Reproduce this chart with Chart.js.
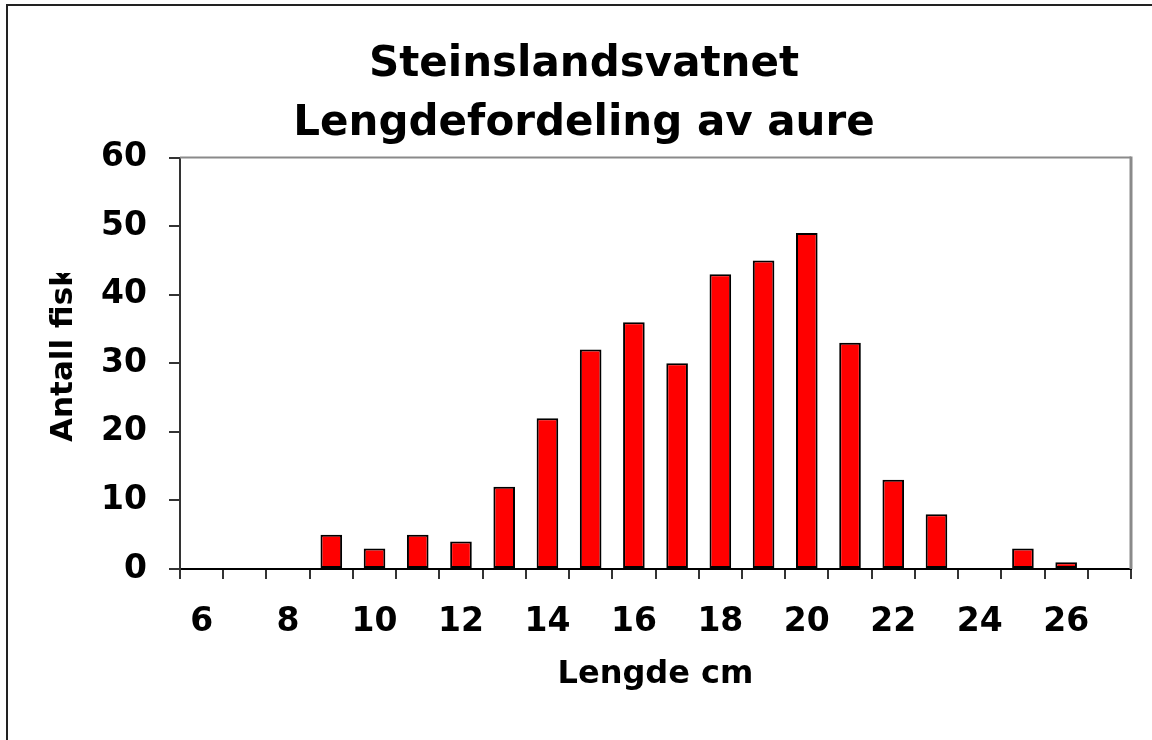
<!DOCTYPE html>
<html><head><meta charset="utf-8">
<script src="https://cdn.jsdelivr.net/npm/chart.js@4/dist/chart.umd.min.js"></script>
<style>html,body{margin:0;padding:0;background:#fff;overflow:hidden}
#wrap{position:relative;width:1152px;height:740px}</style>
</head><body><div id="wrap"><canvas id="c" width="1152" height="740"></canvas></div>
<script>
const titleLines = ['Steinslandsvatnet', 'Lengdefordeling av aure'];
const xTitle = 'Lengde cm';
const yTitle = 'Antall fisk';
const lengths = [6, 7, 8, 9, 10, 11, 12, 13, 14, 15, 16, 17, 18, 19, 20, 21, 22, 23, 24, 25, 26, 27];
const counts  = [0, 0, 0, 5, 3, 5, 4, 12, 22, 32, 36, 30, 43, 45, 49, 33, 13, 8, 0, 3, 1, 0];
const xTickLabels = [6, 8, 10, 12, 14, 16, 18, 20, 22, 24, 26];
const yTickValues = [0, 10, 20, 30, 40, 50, 60];

const FONT = 'DejaVu Sans';

const framePlugin = {
  id: 'frame',
  beforeDraw(chart) {
    const ctx = chart.ctx;
    ctx.save();
    ctx.fillStyle = '#fff';
    ctx.fillRect(0, 0, chart.width, chart.height);
    ctx.strokeStyle = '#222';
    ctx.lineWidth = 2;
    ctx.strokeRect(7, 5, 1300, 1000);
    ctx.restore();
  },
  afterDraw(chart) {
    const ctx = chart.ctx;
    const a = chart.chartArea;
    ctx.save();
    ctx.strokeStyle = '#8a8a8a';
    ctx.lineWidth = 2;
    ctx.beginPath();
    ctx.moveTo(a.left, a.top);
    ctx.lineTo(a.right, a.top);
    ctx.stroke();
    ctx.lineWidth = 3;
    ctx.beginPath();
    ctx.moveTo(a.right, a.top - 1);
    ctx.lineTo(a.right, a.bottom);
    ctx.stroke();
    // y-axis title (clipped at the top, as in the original)
    ctx.beginPath();
    ctx.rect(0, 273, 180, 300);
    ctx.clip();
    ctx.translate(64, 442);
    ctx.rotate(-Math.PI / 2);
    ctx.font = 'bold 31px "' + FONT + '"';
    ctx.fillStyle = '#000';
    ctx.textAlign = 'left';
    ctx.textBaseline = 'middle';
    ctx.fillText(yTitle, 0, 0);
    ctx.restore();
  }
};

new Chart(document.getElementById('c'), {
  type: 'bar',
  data: {
    labels: lengths.map(String),
    datasets: [{
      data: counts,
      backgroundColor: '#FF0000',
      borderColor: '#000000',
      borderWidth: 2,
      borderSkipped: false,
      barPercentage: 0.5,
      categoryPercentage: 1.0
    }]
  },
  options: {
    responsive: false,
    devicePixelRatio: 1,
    animation: false,
    layout: { padding: { left: 37, right: 21, top: 0, bottom: 0 } },
    plugins: {
      legend: { display: false },
      tooltip: { enabled: false },
      title: {
        display: true,
        text: titleLines,
        color: '#000',
        font: { family: FONT, size: 42, weight: 'bold', lineHeight: 1.4 },
        padding: { top: 36, bottom: 4 }
      }
    },
    scales: {
      x: {
        offset: true,
        grid: { offset: true, drawOnChartArea: false, drawTicks: true, tickLength: 10, color: '#333', lineWidth: 2 },
        border: { display: true, color: '#000', width: 2 },
        ticks: {
          autoSkip: false, maxRotation: 0, minRotation: 0, padding: 24, color: '#000',
          font: { family: FONT, size: 33, weight: 'bold' },
          callback: (v, i) => xTickLabels.includes(lengths[i]) ? String(lengths[i]) : ''
        },
        title: {
          display: true, text: xTitle, color: '#000',
          font: { family: FONT, size: 32, weight: 'bold' },
          padding: { top: 0, bottom: 46 }
        },
        afterFit: s => { s.height = 171; }
      },
      y: {
        min: yTickValues[0],
        max: yTickValues[yTickValues.length - 1],
        grid: { drawOnChartArea: false, drawTicks: true, tickLength: 11, color: '#333', lineWidth: 2 },
        border: { display: true, color: '#333', width: 2 },
        ticks: {
          stepSize: 10, padding: 22, color: '#000',
          font: { family: FONT, size: 33, weight: 'bold' }
        },
        afterBuildTicks: s => { s.ticks = yTickValues.map(v => ({ value: v })); },
        afterFit: s => { s.width = 143; }
      }
    }
  },
  plugins: [framePlugin]
});
</script>
</body></html>
